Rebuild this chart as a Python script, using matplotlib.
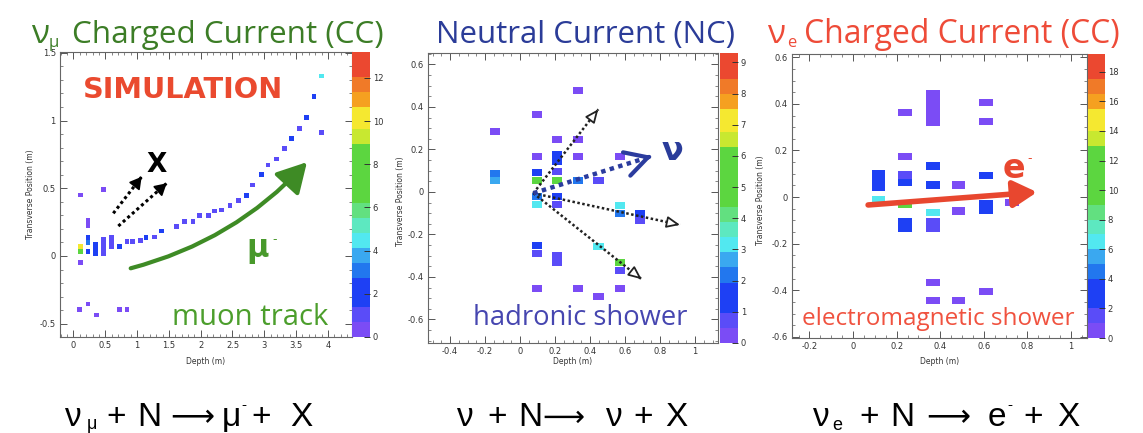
import numpy as np
import matplotlib
matplotlib.use("Agg")
import matplotlib.pyplot as plt
from matplotlib.colors import ListedColormap, Normalize
from matplotlib.patches import Rectangle, FancyArrowPatch
from matplotlib.collections import PatchCollection
from matplotlib.ticker import MultipleLocator, AutoMinorLocator, FuncFormatter
from matplotlib.transforms import IdentityTransform

plt.rcParams['axes.unicode_minus'] = False

# ---------------- data ----------------
# nu_mu CC event: hit cells (depth [m], transverse position [m], energy)
mu_depth = [0.11, 0.11, 0.11, 0.11,
            0.23, 0.23, 0.23, 0.23, 0.23,
            0.35, 0.35, 0.35,
            0.47, 0.47, 0.47, 0.47, 0.47,
            0.60, 0.60, 0.60,
            0.72, 0.84, 0.93, 1.05, 1.14, 1.27, 1.38, 1.62,
            1.75, 1.88, 1.98, 2.12, 2.22, 2.33, 2.46, 2.59, 2.72, 2.82,
            2.96, 3.06, 3.19, 3.32, 3.43, 3.55, 3.66, 3.78, 3.90, 3.90,
            0.10, 0.23, 0.36, 0.72, 0.84]
mu_trans = [0.07, 0.035, -0.05, 0.45,
            0.26, 0.225, 0.135, 0.10, 0.035,
            0.085, 0.05, 0.015,
            0.49, 0.12, 0.085, 0.05, 0.015,
            0.14, 0.105, 0.07,
            0.07, 0.105, 0.105, 0.113, 0.138, 0.14, 0.184, 0.216,
            0.253, 0.253, 0.298, 0.298, 0.332, 0.339, 0.371, 0.408, 0.445, 0.524,
            0.603, 0.672, 0.716, 0.795, 0.868, 0.942, 1.023, 1.176, 1.328, 0.91,
            -0.394, -0.354, -0.435, -0.394, -0.394]
mu_energy = [10.0, 8.0, 0.5, 0.5,
             0.5, 0.5, 2.5, 3.0, 2.5,
             1.5, 2.2, 1.5,
             0.5, 0.9, 0.9, 0.9, 0.9,
             0.9, 0.9, 0.9,
             1.4, 0.9, 0.9, 0.9, 1.4, 0.9, 1.4, 1.2,
             1.0, 1.2, 1.3, 1.0, 1.2, 1.0, 1.2, 1.2, 1.4, 1.2,
             1.4, 1.2, 1.2, 1.2, 1.4, 1.2, 1.4, 1.4, 4.5, 1.0,
             0.6, 0.6, 0.6, 0.6, 0.6]

# NC event
nc_depth = [0.333, 0.095, -0.143, 0.213, 0.333, 0.095,
            0.213, 0.213, 0.213, 0.213, 0.333, 0.571,
            -0.143, -0.143, 0.095, 0.095, 0.333, 0.448,
            0.095, 0.095, 0.213, 0.213, 0.571, 0.571, 0.686, 0.686,
            0.448, 0.095, 0.095, 0.213, 0.213, 0.571, 0.571,
            0.095, 0.333, 0.448, 0.571]
nc_trans = [0.477, 0.366, 0.284, 0.248, 0.248, 0.166,
            0.175, 0.142, 0.095, 0.052, 0.166, 0.166,
            0.088, 0.055, 0.091, 0.052, 0.052, 0.052,
            -0.022, -0.058, -0.022, -0.058, -0.066, -0.100, -0.100, -0.135,
            -0.257, -0.254, -0.289, -0.297, -0.330, -0.333, -0.368,
            -0.453, -0.453, -0.493, -0.453]
nc_energy = [0.4, 0.4, 0.4, 0.4, 0.4, 0.4,
             1.8, 1.8, 0.5, 5.5, 0.4, 0.4,
             2.0, 2.6, 1.8, 5.5, 2.2, 0.5,
             2.0, 3.1, 1.8, 0.6, 3.0, 2.0, 1.8, 0.5,
             3.2, 1.5, 0.6, 0.5, 0.5, 5.5, 0.6,
             0.4, 0.4, 0.4, 0.4]

# nu_e CC event
e_depth = [0.239, 0.366, 0.366, 0.366, 0.366, 0.366, 0.609, 0.609,
           0.239, 0.366, 0.116, 0.116, 0.116, 0.239, 0.239,
           0.366, 0.483, 0.609,
           0.116, 0.239, 0.366, 0.483, 0.609, 0.609, 0.728,
           0.239, 0.239, 0.366, 0.366,
           0.366, 0.366, 0.483, 0.609]
e_trans = [0.362, 0.445, 0.414, 0.383, 0.352, 0.321, 0.405, 0.323,
           0.173, 0.133, 0.102, 0.071, 0.040, 0.095, 0.062,
           0.052, 0.052, 0.094,
           -0.010, -0.032, -0.067, -0.060, -0.028, -0.059, -0.024,
           -0.105, -0.136, -0.105, -0.136,
           -0.368, -0.445, -0.445, -0.406]
e_energy = [0.6, 0.6, 0.6, 0.6, 0.6, 0.6, 0.6, 0.6,
            0.6, 2.8, 2.6, 2.6, 2.6, 1.2, 2.8,
            3.0, 0.6, 3.0,
            6.5, 11.0, 6.5, 0.6, 2.4, 2.4, 0.6,
            2.6, 2.6, 1.2, 1.2,
            0.6, 0.6, 0.6, 0.6]

color_max = [13.2, 9.3, 19.2]
titles = ["Charged Current (CC)", "Neutral Current (NC)", "Charged Current (CC)"]
x_title = "Depth (m)"
y_title = "Transverse Position (m)"

# ---------------- palette (ROOT-like) ----------------
pal_edges = [0.052, 0.104, 0.208, 0.26, 0.313, 0.365, 0.417, 0.469,
             0.677, 0.729, 0.807, 0.859, 0.911, 1.001]
pal_cols = ['#7b4cf5', '#5a4cf8', '#1e40f4', '#2277ee', '#3aa8f0', '#52e8f0',
            '#5de8c0', '#62e080', '#5cd640', '#c8e830', '#f5e830', '#f5a020',
            '#f07a28', '#eb4830']
samp = (np.arange(384) + 0.5) / 384
cmap = ListedColormap([pal_cols[int(np.searchsorted(pal_edges, f, side='right'))] for f in samp])

W, H = 1143, 433
fig = plt.figure(figsize=(W / 100, H / 100), dpi=100)
R = fig.canvas.get_renderer()
PX = IdentityTransform()


def px_text(x, y, s, ha='center', va='baseline', **kw):
    return fig.text(x, H - y, s, transform=PX, ha=ha, va=va, **kw)


def fit_text(s, x0, x1, base, **kw):
    t = px_text((x0 + x1) / 2, base, s, **kw)
    w = t.get_window_extent(R).width
    t.set_fontsize(t.get_fontsize() * (x1 - x0) / w)
    return t


def px_axes(l, t, r, b):
    return fig.add_axes([l / W, 1 - b / H, (r - l) / W, (b - t) / H])


fmt = FuncFormatter(lambda v, p: ('%g' % round(v, 6)))


def style(ax, xlim, ylim, xmaj, ymaj, nminor):
    ax.set_xlim(*xlim)
    ax.set_ylim(*ylim)
    ax.xaxis.set_major_locator(MultipleLocator(xmaj))
    ax.yaxis.set_major_locator(MultipleLocator(ymaj))
    ax.xaxis.set_minor_locator(AutoMinorLocator(nminor))
    ax.yaxis.set_minor_locator(AutoMinorLocator(nminor))
    ax.xaxis.set_major_formatter(fmt)
    ax.yaxis.set_major_formatter(fmt)
    ax.tick_params(which='both', direction='in', top=True, right=True,
                   labelsize=6, labelcolor='#333333', color='#555555', pad=3)
    ax.tick_params(which='major', length=5, width=0.7)
    ax.tick_params(which='minor', length=2.5, width=0.5)
    for s in ax.spines.values():
        s.set_color('#666666')
        s.set_linewidth(0.8)


def cells(ax, xs, ys, es, w, h, vmax):
    patches = [Rectangle((x - w / 2, y - h / 2), w, h) for x, y in zip(xs, ys)]
    pc = PatchCollection(patches, cmap=cmap, norm=Normalize(0, vmax),
                         edgecolor='none', zorder=2)
    pc.set_array(np.asarray(es, dtype=float))
    ax.add_collection(pc)
    return pc


def cbar(pc, cax, step):
    cb = fig.colorbar(pc, cax=cax)
    cb.outline.set_visible(False)
    cax.yaxis.set_major_locator(MultipleLocator(step))
    cax.yaxis.set_ticks_position('right')
    cax.tick_params(direction='in', length=4, width=0.7, labelsize=6,
                    labelcolor='#333333', color='#333333', pad=2)


def dotted_arrow(ax, p0, p1, color, lw, head, fc, hl, hw, ms=10, hlw=1.3):
    ax.plot([p0[0], p1[0]], [p0[1], p1[1]], color=color, lw=lw,
            ls=(0, (1, 1)), solid_capstyle='butt', zorder=4)
    back = (p1[0] - 0.03 * (p1[0] - p0[0]), p1[1] - 0.03 * (p1[1] - p0[1]))
    ax.annotate('', xy=p1, xytext=back,
                arrowprops=dict(arrowstyle='%s,head_length=%g,head_width=%g' % (head, hl, hw),
                                fc=fc, ec=color, lw=hlw, shrinkA=0, shrinkB=0,
                                mutation_scale=ms), zorder=5)


# ---------------- panel 1 : nu_mu CC ----------------
ax1 = px_axes(60, 52, 352, 337)
cax1 = px_axes(352, 52, 370, 337)
style(ax1, (-0.212, 4.379), (-0.598, 1.506), 0.5, 0.5, 5)
pc1 = cells(ax1, mu_depth, mu_trans, mu_energy, 0.075, 0.035, color_max[0])
cbar(pc1, cax1, 2)

green_arrow = FancyArrowPatch((0.857, -0.096), (3.70, 0.708),
                              connectionstyle='arc3,rad=0.15',
                              arrowstyle='-|>,head_length=0.9,head_width=0.5',
                              mutation_scale=20, lw=3, color='#3e8b25', zorder=5)
ax1.add_patch(green_arrow)
dotted_arrow(ax1, (0.626, 0.315), (1.072, 0.585), 'black', 2.2, '-|>', 'black', 0.7, 0.4)
dotted_arrow(ax1, (0.705, 0.221), (1.465, 0.537), 'black', 2.2, '-|>', 'black', 0.7, 0.4)

fit_text("SIMULATION", 83, 283, 98, family='DejaVu Sans', weight='bold',
         color='#ea4a2f', fontsize=20)
px_text(156.5, 172, "X", family='DejaVu Sans', weight='bold', color='black', fontsize=19)
px_text(246, 257, "μ", ha='left', family='DejaVu Sans', weight='bold',
        color='#48992b', fontsize=22)
px_text(272, 243, "-", ha='left', family='DejaVu Sans',
        color='#48992b', fontsize=9)
fit_text("muon track", 172, 328, 325, family='Open Sans', color='#4c9e2c', fontsize=20)

# ---------------- panel 2 : NC ----------------
ax2 = px_axes(428, 53, 718, 343)
cax2 = px_axes(720, 53, 738, 343)
style(ax2, (-0.526, 1.131), (-0.711, 0.654), 0.2, 0.2, 4)
pc2 = cells(ax2, nc_depth, nc_trans, nc_energy, 0.058, 0.033, color_max[1])
cbar(pc2, cax2, 1)

origin = (0.076, -0.006)
for tip in [(0.447, 0.389), (0.914, -0.155), (0.695, -0.411)]:
    dotted_arrow(ax2, origin, tip, '#222222', 1.8, '-|>', 'white', 0.8, 0.35)
dotted_arrow(ax2, origin, (0.754, 0.169), '#2b3c9e', 3.2, '->', 'none', 1.0, 0.55,
             ms=16, hlw=3)
px_text(672.5, 160, "ν", family='DejaVu Sans', weight='bold', color='#2a3c9a', fontsize=23)
fit_text("hadronic shower", 473, 687, 325, family='Open Sans', color='#4646b0', fontsize=20)

# ---------------- panel 3 : nu_e CC ----------------
ax3 = px_axes(792, 54, 1087, 338)
cax3 = px_axes(1088, 54, 1105, 338)
style(ax3, (-0.28, 1.073), (-0.605, 0.614), 0.2, 0.2, 4)
pc3 = cells(ax3, e_depth, e_trans, e_energy, 0.062, 0.031, color_max[2])
cbar(pc3, cax3, 2)

ax3.annotate('', xy=(0.844, 0.021), xytext=(0.069, -0.034),
             arrowprops=dict(arrowstyle='-|>,head_length=0.8,head_width=0.45',
                             fc='#e8472f', ec='#e8472f', lw=4, shrinkA=0, shrinkB=0,
                             mutation_scale=18), zorder=6)
px_text(1014, 178, "e", family='DejaVu Sans', weight='bold', color='#e8472f', fontsize=24)
px_text(1027, 162, "-", ha='left', family='DejaVu Sans',
        color='#e8472f', fontsize=9)
fit_text("electromagnetic shower", 802, 1075, 325, family='Open Sans',
         color='#f0523f', fontsize=17)

# ---------------- axis titles ----------------
for cx in [206, 573, 940]:
    px_text(cx, 362, x_title, va='center', fontsize=5.5, color='#333333')
for (yx, yc) in [(30, 194), (400, 201), (760, 200)]:
    px_text(yx, yc, y_title, va='center', rotation=90, fontsize=5.5, color='#333333')

# ---------------- panel titles ----------------
px_text(40, 43, "ν", family='Open Sans', color='#3c7d26', fontsize=24)
px_text(54, 47, "μ", family='Open Sans', color='#3c7d26', fontsize=12)
fit_text(titles[0], 72, 383, 43, family='Open Sans', color='#3c7d26', fontsize=22)
fit_text(titles[1], 436, 735, 43, family='Open Sans', color='#2b3c98', fontsize=22)
px_text(776, 43, "ν", family='Open Sans', color='#ee4b38', fontsize=24)
px_text(792, 47, "e", family='Open Sans', color='#ee4b38', fontsize=12)
fit_text(titles[2], 804, 1119, 43, family='Open Sans', color='#ee4b38', fontsize=22)

# ---------------- reaction equations ----------------
EQF = ['Liberation Sans', 'DejaVu Sans']
BIG = 24


def eq_piece(s, cx, base=426, size=BIG, fam=EQF):
    return px_text(cx, base, s, family=fam, fontsize=size, color='black')


def eq_arrow(x0, x1):
    fit_text("⟶", x0, x1, 426, family=['DejaVu Sans'], color='black', fontsize=20)


# eq 1
eq_piece("ν", 73); eq_piece("μ", 91.5, 429, 13); eq_piece("+", 116); eq_piece("N", 149)
eq_arrow(170, 214); eq_piece("μ", 231.5); eq_piece("-", 244, 409, 11)
eq_piece("+", 261); eq_piece("X", 301)
# eq 2
eq_piece("ν", 465); eq_piece("+", 497); eq_piece("N", 530)
eq_arrow(542, 584); eq_piece("ν", 614); eq_piece("+", 643); eq_piece("X", 676)
# eq 3
eq_piece("ν", 821); eq_piece("e", 837.5, 430, 13); eq_piece("+", 869); eq_piece("N", 902.5)
eq_arrow(926, 970); eq_piece("e", 997); eq_piece("-", 1010, 409, 11)
eq_piece("+", 1033); eq_piece("X", 1068)

fig.savefig("out.png", dpi=100)
